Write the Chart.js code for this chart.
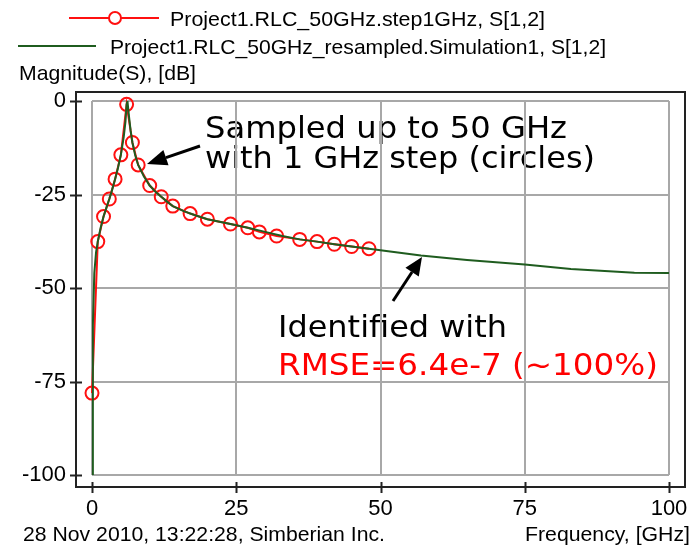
<!DOCTYPE html>
<html>
<head>
<meta charset="utf-8">
<script src="https://cdn.jsdelivr.net/npm/chart.js@4.4.0/dist/chart.umd.min.js"></script>
<style>
  html, body { margin: 0; padding: 0; background: #fff; }
  canvas { display: block; }
</style>
</head>
<body>
<canvas id="chart" width="698" height="549"></canvas>
<script>
const xTicks = [0, 25, 50, 75, 100];
const yTicks = [0, -25, -50, -75, -100];

// circles: measured at 1 GHz step up to 48 GHz (only the drawn markers)
const sampledFreq = [0, 1, 2, 3, 4, 5, 6, 7, 8, 10, 12, 14, 17, 20, 24, 27, 29, 32, 36, 39, 42, 45, 48];
const sampledDb = [-78.1, -37.6, -30.9, -26.2, -20.9, -14.4, -0.9, -11.1, -17.1, -22.6, -25.6, -28.1,
  -30.1, -31.6, -32.9, -33.9, -35.0, -36.1, -37.0, -37.6, -38.3, -38.9, -39.5];

// identified model, resampled to 100 GHz
const fittedFreq = [0, 0.15, 0.4, 0.7, 1, 1.5, 2, 2.5, 3, 3.5, 4, 4.5, 5, 5.5, 5.8, 6, 6.15, 6.4, 6.7, 7,
  7.5, 8, 9, 10, 11, 12, 13, 14, 16, 18, 20, 24, 27, 30, 33, 36, 39, 42, 45, 48, 50, 57, 65, 75, 83, 94, 100];
const fittedDb = [-100, -60, -46, -40.5, -37.6, -33.9, -30.9, -28.5, -26.2, -23.7, -20.9, -17.9, -14.4, -9.6,
  -5.5, -0.9, -0.1, -4.0, -8.0, -11.1, -14.6, -17.1, -20.2, -22.6, -24.3, -25.6, -26.9, -28.1, -29.5, -30.6,
  -31.6, -32.9, -33.9, -35.0, -36.1, -37.0, -37.6, -38.3, -38.9, -39.5, -39.9, -41.3, -42.5, -43.7, -44.9,
  -45.9, -46.0];

const sampledLabel = 'Project1.RLC_50GHz.step1GHz, S[1,2]';
const fittedLabel = 'Project1.RLC_50GHz_resampled.Simulation1, S[1,2]';

const RED = '#ff1010';
const GREEN = '#1f5c1f';
const GRID = '#a8a8a8';
const tickFont = { family: "'Liberation Sans', Arial, sans-serif", size: 22 };

function fitText(ctx, text, x, y, width, font, color) {
  ctx.save();
  ctx.font = font;
  ctx.fillStyle = color;
  ctx.textBaseline = 'alphabetic';
  ctx.textAlign = 'left';
  const w = ctx.measureText(text).width;
  ctx.translate(x, y);
  ctx.scale(width / w, 1);
  ctx.fillText(text, 0, 0);
  ctx.restore();
}

function arrow(ctx, x1, y1, x2, y2, head, half) {
  const a = Math.atan2(y2 - y1, x2 - x1);
  const bx = x2 - head * Math.cos(a);
  const by = y2 - head * Math.sin(a);
  ctx.save();
  ctx.strokeStyle = '#000';
  ctx.fillStyle = '#000';
  ctx.lineWidth = 3;
  ctx.beginPath();
  ctx.moveTo(x1, y1);
  ctx.lineTo(bx, by);
  ctx.stroke();
  ctx.beginPath();
  ctx.moveTo(x2, y2);
  ctx.lineTo(bx + half * Math.sin(a), by - half * Math.cos(a));
  ctx.lineTo(bx - half * Math.sin(a), by + half * Math.cos(a));
  ctx.closePath();
  ctx.fill();
  ctx.restore();
}

const decor = {
  id: 'decor',
  beforeDraw(chart) {
    const ctx = chart.ctx;
    ctx.save();
    ctx.fillStyle = '#fff';
    ctx.fillRect(0, 0, chart.width, chart.height);
    ctx.restore();
    const big = "31px 'DejaVu Sans', Verdana, sans-serif";
    fitText(ctx, 'Sampled up to 50 GHz', 205, 138, 362, big, '#000');
    fitText(ctx, 'with 1 GHz step (circles)', 205, 168, 390, big, '#000');
    fitText(ctx, 'Identified with', 278, 337, 229, big, '#000');
    fitText(ctx, 'RMSE=6.4e-7 (~100%)', 278, 375, 380, big, '#ff0000');
  },
  afterDraw(chart) {
    const ctx = chart.ctx;
    const xs = chart.scales.x;
    const ys = chart.scales.y;
    const small = "21px 'Liberation Sans', Arial, sans-serif";

    // outer frame and tick marks
    ctx.save();
    ctx.strokeStyle = '#222';
    ctx.lineWidth = 2;
    ctx.strokeRect(76, 92, 609, 395);
    ctx.beginPath();
    yTicks.forEach(v => {
      const y = Math.round(ys.getPixelForValue(v)) + 0.5;
      ctx.moveTo(70, y);
      ctx.lineTo(82, y);
    });
    xTicks.forEach(v => {
      const x = Math.round(xs.getPixelForValue(v)) + 0.5;
      ctx.moveTo(x, 482);
      ctx.lineTo(x, 493);
    });
    ctx.stroke();
    ctx.restore();

    // legend
    ctx.save();
    ctx.lineWidth = 2;
    ctx.strokeStyle = RED;
    ctx.beginPath();
    ctx.moveTo(69, 18);
    ctx.lineTo(159, 18);
    ctx.stroke();
    ctx.beginPath();
    ctx.fillStyle = '#fff';
    ctx.arc(115, 18, 6, 0, Math.PI * 2);
    ctx.fill();
    ctx.stroke();
    ctx.strokeStyle = GREEN;
    ctx.beginPath();
    ctx.moveTo(18, 46);
    ctx.lineTo(96, 46);
    ctx.stroke();
    ctx.restore();
    fitText(ctx, sampledLabel, 170, 26, 375, small, '#000');
    fitText(ctx, fittedLabel, 110, 54, 496, small, '#000');
    fitText(ctx, 'Magnitude(S), [dB]', 19, 80, 177, small, '#000');
    fitText(ctx, '28 Nov 2010, 13:22:28, Simberian Inc.', 23, 541, 362, small, '#000');
    fitText(ctx, 'Frequency, [GHz]', 525, 541, 165, small, '#000');

    // annotation arrows
    arrow(ctx, 200, 146, 147, 164, 20, 8);
    arrow(ctx, 393, 301, 422, 257, 18, 8);
  }
};

new Chart(document.getElementById('chart'), {
  type: 'line',
  data: {
    datasets: [
      {
        label: sampledLabel,
        data: sampledFreq.map((f, i) => ({ x: f, y: sampledDb[i] })),
        borderColor: RED,
        borderWidth: 2,
        pointRadius: 6.5,
        pointBorderWidth: 2,
        pointBorderColor: RED,
        pointBackgroundColor: 'rgba(0,0,0,0)',
        tension: 0,
        clip: 10,
        order: 2
      },
      {
        label: fittedLabel,
        data: fittedFreq.map((f, i) => ({ x: f, y: fittedDb[i] })),
        borderColor: GREEN,
        borderWidth: 2,
        pointRadius: 0,
        tension: 0,
        order: 1
      }
    ]
  },
  options: {
    responsive: false,
    animation: false,
    devicePixelRatio: 1,
    layout: { padding: { top: 101, right: 29, left: 0, bottom: 0 } },
    scales: {
      x: {
        type: 'linear',
        min: 0,
        max: 100,
        afterBuildTicks: (s) => { s.ticks = xTicks.map(v => ({ value: v })); },
        afterFit: (s) => { s.height = 74; s.paddingLeft = 0; s.paddingRight = 0; },
        grid: { color: GRID, lineWidth: 2, drawTicks: false },
        border: { display: false },
        ticks: { font: tickFont, color: '#000', padding: 21, maxRotation: 0 }
      },
      y: {
        type: 'linear',
        min: -100,
        max: 0,
        afterBuildTicks: (s) => { s.ticks = yTicks.map(v => ({ value: v })); },
        afterFit: (s) => { s.width = 92; s.paddingTop = 0; s.paddingBottom = 0; },
        grid: { color: GRID, lineWidth: 2, drawTicks: false },
        border: { display: false },
        ticks: { font: tickFont, color: '#000', padding: 26 }
      }
    },
    plugins: {
      legend: { display: false },
      tooltip: { enabled: false }
    }
  },
  plugins: [decor]
});
</script>
</body>
</html>
